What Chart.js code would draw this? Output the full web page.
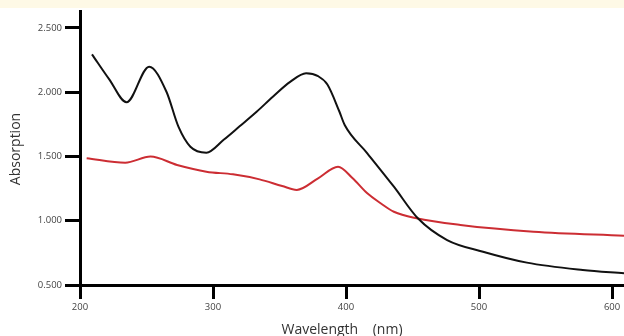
<!DOCTYPE html>
<html>
<head>
<meta charset="utf-8">
<script src="https://cdn.jsdelivr.net/npm/chart.js@4"></script>
<style>
  html, body { margin: 0; padding: 0; background: #fff; }
  #wrap { width: 624px; height: 336px; }
</style>
</head>
<body>
<div id="wrap"><canvas id="myChart" width="624" height="336"></canvas></div>
<script>
// wavelength (nm) / absorption
var blackWl  = [209, 222, 235, 252, 265, 274, 283, 295, 308, 320, 333, 345, 358, 370, 379, 386, 395, 399, 416, 436, 454, 476, 503, 536, 578, 609];
var blackAbs = [2.295, 2.10, 1.922, 2.199, 2.004, 1.732, 1.576, 1.530, 1.63, 1.735, 1.85, 1.965, 2.08, 2.147, 2.125, 2.06, 1.85, 1.745, 1.525, 1.265, 1.019, 0.850, 0.759, 0.674, 0.617, 0.591];

var redWl  = [205, 234, 253, 273, 295, 315, 335, 352, 363, 379, 394, 405, 416, 426, 436, 453, 486, 541, 609];
var redAbs = [1.486, 1.452, 1.499, 1.434, 1.382, 1.361, 1.322, 1.27, 1.24, 1.33, 1.42, 1.33, 1.213, 1.136, 1.07, 1.019, 0.967, 0.915, 0.884];

var xTicks = [200, 300, 400, 500, 600];
var yTicks = [0.5, 1.0, 1.5, 2.0, 2.5];

function toPoints(xs, ys) {
  return xs.map(function(x, i) { return { x: x, y: ys[i] }; });
}

var topBand = {
  id: 'topBand',
  beforeDraw: function(chart) {
    var ctx = chart.ctx;
    ctx.save();
    ctx.fillStyle = '#fef9e6';
    ctx.fillRect(0, 0, chart.width, 8);
    ctx.restore();
  }
};

var axisTitles = {
  id: 'axisTitles',
  afterDraw: function(chart) {
    var ctx = chart.ctx;
    ctx.save();
    ctx.fillStyle = '#333';
    ctx.font = '14px "Open Sans"';
    ctx.textAlign = 'center';
    ctx.textBaseline = 'middle';
    ctx.fillText('Wavelength    (nm)', 342, 330);
    ctx.translate(16, 149);
    ctx.rotate(-Math.PI / 2);
    ctx.fillText('Absorption', 0, 0);
    ctx.restore();
  }
};

var ctx = document.getElementById('myChart').getContext('2d');
var myChart = new Chart(ctx, {
  type: 'line',
  data: {
    datasets: [{
      label: 'black',
      data: toPoints(blackWl, blackAbs),
      borderColor: '#111',
      borderWidth: 2,
      pointRadius: 0,
      cubicInterpolationMode: 'monotone'
    }, {
      label: 'red',
      data: toPoints(redWl, redAbs),
      borderColor: '#cc2d33',
      borderWidth: 2,
      pointRadius: 0,
      cubicInterpolationMode: 'monotone'
    }]
  },
  options: {
    responsive: false,
    animation: false,
    layout: { padding: { top: 11, right: 0, left: 0, bottom: 0 } },
    plugins: { legend: { display: false }, tooltip: { enabled: false } },
    scales: {
      x: {
        type: 'linear',
        min: 200,
        max: 609,
        afterFit: function(scale) { scale.height = 51; },
        afterBuildTicks: function(scale) {
          scale.ticks = xTicks.map(function(v) { return { value: v }; });
        },
        border: { display: true, color: '#000', width: 3 },
        grid: { drawOnChartArea: false, drawTicks: true, tickLength: 14, color: '#000', lineWidth: 3, tickWidth: 3 },
        ticks: {
          padding: 3,
          maxRotation: 0,
          color: '#444',
          font: { family: 'Open Sans', size: 9.5 },
          callback: function(v) { return String(v); }
        }
      },
      y: {
        type: 'linear',
        min: 0.5,
        max: 2.632,
        afterFit: function(scale) { scale.width = 80; },
        afterBuildTicks: function(scale) {
          scale.ticks = yTicks.map(function(v) { return { value: v }; });
        },
        border: { display: true, color: '#000', width: 3 },
        grid: { drawOnChartArea: false, drawTicks: true, tickLength: 15, color: '#000', lineWidth: 3, tickWidth: 3 },
        ticks: {
          padding: 3,
          color: '#444',
          font: { family: 'Open Sans', size: 9.5 },
          callback: function(v) { return v.toFixed(3); }
        }
      }
    }
  },
  plugins: [topBand, axisTitles]
});
</script>
</body>
</html>
